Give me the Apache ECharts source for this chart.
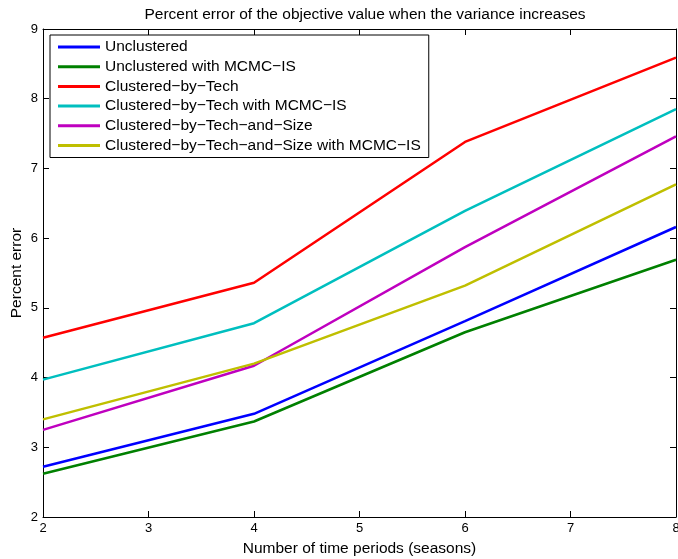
<!DOCTYPE html>
<html><head><meta charset="utf-8">
<script src="https://cdn.jsdelivr.net/npm/echarts@6/dist/echarts.min.js"></script>
<style>html,body{margin:0;padding:0;background:#fff}#c{width:678px;height:559px}</style>
</head><body><div id="c"></div>
<script>
const xValues = [2, 4, 6, 8];
const seriesNames = ['Unclustered','Unclustered with MCMC\u2212IS','Clustered\u2212by\u2212Tech','Clustered\u2212by\u2212Tech with MCMC\u2212IS','Clustered\u2212by\u2212Tech\u2212and\u2212Size','Clustered\u2212by\u2212Tech\u2212and\u2212Size with MCMC\u2212IS'];
const colors = ['#0000ff','#008000','#ff0000','#00bfbf','#bf00bf','#bfbf00'];
const unclustered = [2.72, 3.48, 4.81, 6.16];
const unclusteredMCMC = [2.62, 3.37, 4.65, 5.69];
const clusteredTech = [4.57, 5.36, 7.38, 8.59];
const clusteredTechMCMC = [3.97, 4.78, 6.39, 7.85];
const clusteredTechSize = [3.25, 4.17, 5.87, 7.46];
const clusteredTechSizeMCMC = [3.40, 4.20, 5.32, 6.77];
const allData = [unclustered, unclusteredMCMC, clusteredTech, clusteredTechMCMC, clusteredTechSize, clusteredTechSizeMCMC];

const font = 'Liberation Sans, Arial, Helvetica, sans-serif';
const chart = echarts.init(document.getElementById('c'));
const axisCommon = {
  axisLine: {show: true, onZero: false, lineStyle: {color: '#000', width: 1}},
  axisTick: {show: true, inside: true, length: 6, lineStyle: {color: '#000'}},
  splitLine: {show: false}
};
chart.setOption({
  animation: false,
  title: {text: 'Percent error of the objective value when the variance increases', left: 360, textAlign: 'center', top: 2,
    textStyle: {fontFamily: font, fontSize: 15.5, fontWeight: 'normal', color: '#000'}},
  grid: {left: 43, right: 2, top: 29, bottom: 42, containLabel: false, outerBoundsMode: 'none'},
  legend: {
    orient: 'vertical', left: 50, top: 35, padding: [4, 8, 4, 8],
    borderColor: '#000', borderWidth: 1, backgroundColor: '#fff',
    itemWidth: 42, itemHeight: 3, itemGap: 3.7, icon: 'rect',
    textStyle: {fontFamily: font, fontSize: 15.5, color: '#000', lineHeight: 16},
    data: seriesNames
  },
  xAxis: [
    Object.assign({type: 'value', min: 2, max: 8, interval: 1, position: 'bottom',
      axisLabel: {color: '#000', fontFamily: font, fontSize: 13, margin: 5},
      name: 'Number of time periods (seasons)', nameLocation: 'middle', nameGap: 24, nameMoveOverlap: false,
      nameTextStyle: {fontFamily: font, fontSize: 15.5, color: '#000'}}, axisCommon),
    Object.assign({type: 'value', min: 2, max: 8, interval: 1, position: 'top', axisLabel: {show: false}}, axisCommon)
  ],
  yAxis: [
    Object.assign({type: 'value', min: 2, max: 9, interval: 1, position: 'left',
      axisLabel: {color: '#000', fontFamily: font, fontSize: 13, margin: 5},
      name: 'Percent error', nameLocation: 'middle', nameGap: 18, nameMoveOverlap: false,
      nameTextStyle: {fontFamily: font, fontSize: 15.5, color: '#000'}}, axisCommon),
    Object.assign({type: 'value', min: 2, max: 9, interval: 1, position: 'right', axisLabel: {show: false}}, axisCommon)
  ],
  series: seriesNames.map((n, i) => ({
    name: n, type: 'line', xAxisIndex: 0, yAxisIndex: 0,
    data: xValues.map((x, j) => [x, allData[i][j]]),
    showSymbol: false, symbol: 'none',
    lineStyle: {color: colors[i], width: 2.5}, itemStyle: {color: colors[i]}
  }))
});
</script></body></html>
